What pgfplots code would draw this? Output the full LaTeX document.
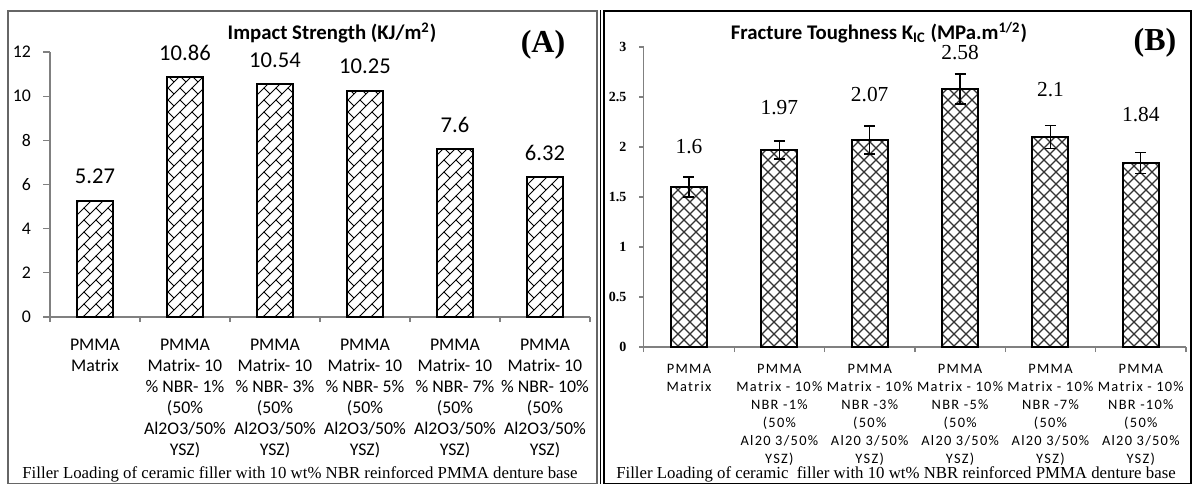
\documentclass[border=0pt]{standalone}
\usepackage{fontspec}
\setmainfont{Liberation Serif}
\newfontfamily\calfont{Carlito}
\newfontfamily\calsp[LetterSpace=9]{Carlito}
\usepackage{pgfplots}
\usepackage{pgfplotstable}
\pgfplotsset{compat=1.18}
\usetikzlibrary{patterns}

\pgfdeclarepatternformonly{diagbrick}{\pgfqpoint{-1pt}{-1pt}}{\pgfqpoint{7pt}{7pt}}{\pgfqpoint{6pt}{6pt}}{%
  \pgfsetlinewidth{0.5pt}%
  \pgfpathmoveto{\pgfqpoint{0pt}{0pt}}\pgfpathlineto{\pgfqpoint{6.1pt}{6.1pt}}%
  \pgfpathmoveto{\pgfqpoint{0pt}{6pt}}\pgfpathlineto{\pgfqpoint{3pt}{3pt}}%
  \pgfusepath{stroke}}
\pgfdeclarepatternformonly{diamonds}{\pgfqpoint{-1pt}{-1pt}}{\pgfqpoint{7pt}{7pt}}{\pgfqpoint{6pt}{6pt}}{%
  \pgfsetlinewidth{0.6pt}%
  \pgfpathmoveto{\pgfqpoint{0pt}{0pt}}\pgfpathlineto{\pgfqpoint{6.1pt}{6.1pt}}%
  \pgfpathmoveto{\pgfqpoint{-0.1pt}{6.1pt}}\pgfpathlineto{\pgfqpoint{6.1pt}{-0.1pt}}%
  \pgfusepath{stroke}}

\pgfplotstableread{
x y
0 5.27
1 10.86
2 10.54
3 10.25
4 7.6
5 6.32
}\impact

\pgfplotstableread{
x y e
0 1.6 0.10
1 1.97 0.09
2 2.07 0.14
3 2.58 0.15
4 2.1 0.115
5 1.84 0.105
}\tough

\begin{document}
\begin{tikzpicture}
\useasboundingbox (0pt,0pt) rectangle (597pt,242pt);
% frames
\draw[draw=gray!80!black, line width=0.6pt] (4pt,0.3pt) rectangle (298.5pt,236.5pt);
\draw[draw=black, line width=0.8pt] (302pt,0.3pt) rectangle (595.5pt,236.5pt);
\draw[draw=black, line width=0.5pt] (300.4pt,0pt) -- (300.4pt,236.9pt);

\begin{axis}[
  at={(25pt,83.5pt)}, anchor=south west, scale only axis,
  width=270pt, height=132.5pt,
  xmin=-0.5, xmax=5.5, ymin=0, ymax=12,
  axis x line*=bottom, axis y line*=left,
  axis line style={draw=gray, line width=0.6pt},
  /pgf/number format/assume math mode=true,
  tick align=outside,
  xtick={0,...,5}, xtick style={draw=none},
  minor xtick={-0.5,0.5,...,5.5},
  minor x tick style={draw=gray, line width=0.6pt},
  minor tick length=2.5pt,
  ytick={0,2,...,12}, y tick style={draw=gray, line width=0.6pt},
  major tick length=3.5pt,
  yticklabel style={font=\calfont\fontsize{8.9}{10}\selectfont, xshift=-2.5pt},
  xticklabel style={font=\calfont\fontsize{8.9}{10.5}\selectfont, align=center, yshift=-4pt},
  xticklabels={{PMMA\\Matrix},
    {PMMA\\Matrix- 10\\\% NBR- 1\%\\(50\%\\Al2O3/50\%\\YSZ)},
    {PMMA\\Matrix- 10\\\% NBR- 3\%\\(50\%\\Al2O3/50\%\\YSZ)},
    {PMMA\\Matrix- 10\\\% NBR- 5\%\\(50\%\\Al2O3/50\%\\YSZ)},
    {PMMA\\Matrix- 10\\\% NBR- 7\%\\(50\%\\Al2O3/50\%\\YSZ)},
    {PMMA\\Matrix- 10\\\% NBR- 10\%\\(50\%\\Al2O3/50\%\\YSZ)}},
  ybar, bar width=18pt, clip=false,
  nodes near coords,
  every node near coord/.append style={font=\calfont\fontsize{11.3}{13}\selectfont, anchor=center, yshift=12pt},
]
\addplot[draw=black, line width=1pt, pattern=diagbrick, pattern color=black] table[x=x,y=y]{\impact};
\end{axis}

\begin{axis}[
  at={(321.9pt,68.5pt)}, anchor=south west, scale only axis,
  width=271.1pt, height=150pt,
  xmin=-0.5, xmax=5.5, ymin=0, ymax=3,
  axis x line*=bottom, axis y line*=left,
  axis line style={draw=gray, line width=0.6pt},
  /pgf/number format/assume math mode=true,
  tick align=outside,
  xtick={0,...,5}, xtick style={draw=none},
  minor xtick={-0.5,0.5,...,5.5},
  minor x tick style={draw=gray, line width=0.6pt},
  minor tick length=2.5pt,
  ytick={0,0.5,...,3}, y tick style={draw=gray, line width=0.6pt},
  major tick length=2.2pt,
  yticklabel style={font=\bfseries\fontsize{7}{8}\selectfont, xshift=-3pt},
  xticklabel style={font=\calsp\fontsize{7.2}{9}\selectfont, align=center, yshift=-3pt},
  xticklabels={{PMMA\\Matrix},
    {PMMA\\Matrix - 10\%\\NBR -1\%\\(50\%\\Al20 3/50\%\\YSZ)},
    {PMMA\\Matrix - 10\%\\NBR -3\%\\(50\%\\Al20 3/50\%\\YSZ)},
    {PMMA\\Matrix - 10\%\\NBR -5\%\\(50\%\\Al20 3/50\%\\YSZ)},
    {PMMA\\Matrix - 10\%\\NBR -7\%\\(50\%\\Al20 3/50\%\\YSZ)},
    {PMMA\\Matrix - 10\%\\NBR -10\%\\(50\%\\Al20 3/50\%\\YSZ)}},
  ybar, bar width=18pt, clip=false,
]
\addplot[draw=black, line width=1pt, pattern=diamonds, pattern color=black!80,
  error bars/.cd, y dir=both, y explicit,
  error bar style={line width=0.6pt, black},
  error mark options={rotate=90, mark size=2.75pt, line width=0.6pt, black}]
  table[x=x,y=y,y error=e]{\tough};
\node[font=\fontsize{10.7}{12}\selectfont] at (axis cs:0,2.00) {1.6};
\node[font=\fontsize{10.7}{12}\selectfont] at (axis cs:1,2.39) {1.97};
\node[font=\fontsize{10.7}{12}\selectfont] at (axis cs:2,2.52) {2.07};
\node[font=\fontsize{10.7}{12}\selectfont] at (axis cs:3,2.94) {2.58};
\node[font=\fontsize{10.7}{12}\selectfont] at (axis cs:4,2.57) {2.1};
\node[font=\fontsize{10.7}{12}\selectfont] at (axis cs:5,2.32) {1.84};
\end{axis}

% titles
\node[font=\calfont\bfseries\fontsize{10.4}{12}\selectfont] at (166pt,225.5pt) {Impact Strength (KJ/m\textsuperscript{2})};
\node[font=\calfont\bfseries\fontsize{10.4}{12}\selectfont] at (439.5pt,225.5pt) {Fracture Toughness K\textsubscript{IC} (MPa.m\textsuperscript{1/2})};
\node[font=\bfseries\fontsize{16}{18}\selectfont] at (271.5pt,219.5pt) {(A)};
\node[font=\bfseries\fontsize{16}{18}\selectfont] at (577.5pt,220.5pt) {(B)};
% captions
\node[font=\fontsize{8.4}{10}\selectfont] at (150pt,5pt) {Filler Loading of ceramic filler with 10 wt\% NBR reinforced PMMA denture base};
\node[font=\fontsize{8.4}{10}\selectfont] at (448pt,5pt) {Filler Loading of ceramic\ \ filler with 10 wt\% NBR reinforced PMMA denture base};
\end{tikzpicture}
\end{document}
